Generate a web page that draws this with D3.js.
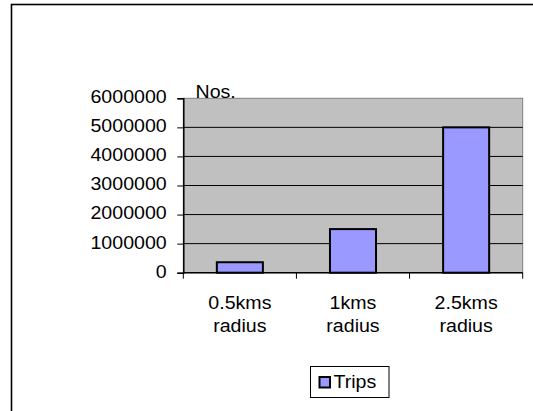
<!DOCTYPE html>
<html>
<head>
<meta charset="utf-8">
<script src="https://cdn.jsdelivr.net/npm/d3@7"></script>
<style>
  html, body { margin: 0; padding: 0; background: #fff; }
  svg { display: block; }
  text { font-family: "Liberation Sans", Arial, sans-serif; font-size: 17.5px; fill: #000; }
</style>
</head>
<body>
<div id="chart"></div>
<script>
// Chart data
const categories = [["0.5kms", "radius"], ["1kms", "radius"], ["2.5kms", "radius"]];
const trips = [360000, 1500000, 5000000];
const yTicks = [0, 1000000, 2000000, 3000000, 4000000, 5000000, 6000000];
const seriesName = "Trips";
const yTitle = "Nos.";

const width = 533;
const height = 411;
const plot = { left: 183.3, right: 522.7, top: 98.3, bottom: 272.7 };
const stretch = 1.12; // text in the original is a bit wider than Arial

const svg = d3.select("#chart")
    .append("svg")
    .attr("width", width)
    .attr("height", height);

// outer frame (runs off the right and bottom edges)
svg.append("rect")
    .attr("x", 11.5).attr("y", 4.5)
    .attr("width", 700).attr("height", 700)
    .attr("fill", "none")
    .attr("stroke", "#000")
    .attr("stroke-width", 1.6);

const xScale = d3.scaleBand()
    .domain(d3.range(categories.length))
    .range([plot.left, plot.right])
    .paddingInner(0.593)
    .paddingOuter(0.2965);

const yScale = d3.scaleLinear()
    .domain([0, 6000000])
    .range([plot.bottom, plot.top]);

// plot area
svg.append("rect")
    .attr("x", plot.left).attr("y", plot.top)
    .attr("width", plot.right - plot.left)
    .attr("height", plot.bottom - plot.top)
    .attr("fill", "#c0c0c0")
    .attr("stroke", "#808080")
    .attr("stroke-width", 1);

// gridlines
svg.append("g")
    .selectAll("line")
    .data(yTicks.filter(d => d > 0 && d < 6000000))
    .enter()
    .append("line")
    .attr("x1", plot.left).attr("x2", plot.right)
    .attr("y1", d => yScale(d)).attr("y2", d => yScale(d))
    .attr("stroke", "#000")
    .attr("stroke-width", 1);

// bars
svg.append("g")
    .selectAll("rect")
    .data(trips)
    .enter()
    .append("rect")
    .attr("x", (d, i) => xScale(i))
    .attr("y", d => yScale(d))
    .attr("width", xScale.bandwidth())
    .attr("height", d => yScale(0) - yScale(d))
    .attr("fill", "#9999ff")
    .attr("stroke", "#000")
    .attr("stroke-width", 2);

// y axis
const yAxis = svg.append("g")
    .attr("transform", `translate(${plot.left}, 0)`)
    .call(d3.axisLeft(yScale).tickValues(yTicks).tickSize(6).tickFormat(d3.format("d")));

yAxis.select(".domain").attr("stroke", "#000").attr("stroke-width", 1.5);
yAxis.selectAll(".tick line").attr("stroke", "#000");
yAxis.selectAll(".tick text")
    .attr("x", 0).attr("dy", null)
    .attr("transform", `translate(-16.6, 4.4) scale(${stretch}, 1)`)
    .attr("text-anchor", "end")
    .style("font-size", "17.5px")
    .style("font-family", "'Liberation Sans', Arial, sans-serif");

// x axis line + category separators
svg.append("line")
    .attr("x1", plot.left).attr("x2", plot.right)
    .attr("y1", plot.bottom).attr("y2", plot.bottom)
    .attr("stroke", "#000").attr("stroke-width", 1.5);

const step = xScale.step();
svg.append("g")
    .selectAll("line")
    .data(d3.range(categories.length + 1))
    .enter()
    .append("line")
    .attr("x1", i => plot.left + i * step).attr("x2", i => plot.left + i * step)
    .attr("y1", plot.bottom).attr("y2", plot.bottom + 6)
    .attr("stroke", "#000");

// category labels
const catLabels = svg.append("g");
categories.forEach((lines, i) => {
    const cx = xScale(i) + xScale.bandwidth() / 2;
    lines.forEach((txt, j) => {
        catLabels.append("text")
            .attr("transform", `translate(${cx}, ${309.3 + j * 22.4}) scale(${stretch}, 1)`)
            .attr("text-anchor", "middle")
            .text(txt);
    });
});

// axis title
svg.append("text")
    .attr("transform", `translate(195.5, 97.8) scale(${stretch}, 1)`)
    .text(yTitle);

// legend
const legend = svg.append("g");
legend.append("rect")
    .attr("x", 310.5).attr("y", 366.5)
    .attr("width", 78.5).attr("height", 31)
    .attr("fill", "#fff")
    .attr("stroke", "#000")
    .attr("stroke-width", 1);
legend.append("rect")
    .attr("x", 319.5).attr("y", 377)
    .attr("width", 10.5).attr("height", 10.5)
    .attr("fill", "#9999ff")
    .attr("stroke", "#000")
    .attr("stroke-width", 2);
legend.append("text")
    .attr("transform", `translate(333.5, 388.3) scale(${stretch}, 1)`)
    .text(seriesName);
</script>
</body>
</html>
